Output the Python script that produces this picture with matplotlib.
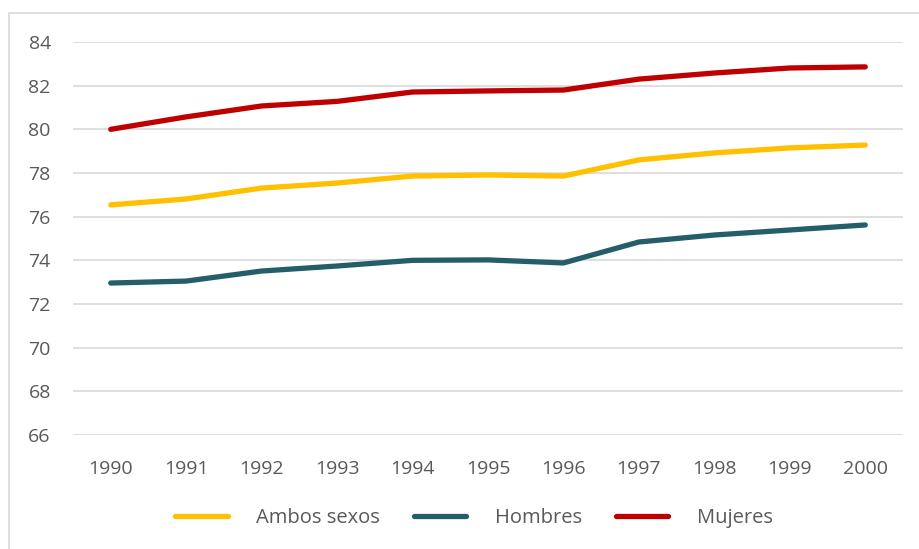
import matplotlib
matplotlib.use("Agg")
import matplotlib.pyplot as plt
from matplotlib.patches import Rectangle

years = ["1990", "1991", "1992", "1993", "1994", "1995", "1996", "1997", "1998", "1999", "2000"]
ambos = [76.54, 76.81, 77.31, 77.54, 77.86, 77.91, 77.86, 78.60, 78.92, 79.15, 79.28]
hombres = [72.96, 73.05, 73.51, 73.74, 74.00, 74.02, 73.88, 74.84, 75.16, 75.39, 75.62]
mujeres = [80.00, 80.57, 81.07, 81.28, 81.71, 81.76, 81.80, 82.30, 82.58, 82.81, 82.86]
series_names = ["Ambos sexos", "Hombres", "Mujeres"]
y_ticks = [66, 68, 70, 72, 74, 76, 78, 80, 82, 84]

plt.rcParams['font.family'] = ['Open Sans', 'DejaVu Sans']
W, H = 919, 549
fig = plt.figure(figsize=(W / 100, H / 100), dpi=100)
fig.patches.append(Rectangle((9 / W, -0.1), 1.2, 1 - 13 / H + 0.1, transform=fig.transFigure,
                             fill=False, edgecolor="#d9d9d9", linewidth=1.2))

ax = fig.add_axes([73 / W, 1 - 435 / H, 830 / W, 393 / H])
x = list(range(len(years)))
colors = ["#FFC000", "#255E6B", "#C00000"]
for vals, name, c in zip([ambos, hombres, mujeres], series_names, colors):
    ax.plot(x, vals, color=c, linewidth=3.8, label=name, solid_capstyle="round", solid_joinstyle="round")

ax.set_xlim(-0.5, len(years) - 0.5)
ax.set_ylim(66, 84)
ax.set_yticks(y_ticks)
ax.set_yticklabels([str(v) for v in y_ticks])
ax.set_xticks(x)
ax.set_xticklabels(years)
ax.grid(axis="y", color="#d9d9d9", linewidth=1.2)
ax.set_axisbelow(True)
for s in ax.spines.values():
    s.set_visible(False)
ax.tick_params(axis="both", length=0, labelsize=14, colors="#595959")
ax.tick_params(axis="x", pad=18)
ax.tick_params(axis="y", pad=16)

leg = fig.legend(loc="center", bbox_to_anchor=(474 / W, 1 - 518 / H), ncol=3, frameon=False,
                 fontsize=14.5, handlelength=2.6, handletextpad=1.4, columnspacing=1.7)
for t in leg.get_texts():
    t.set_color("#595959")

fig.savefig("out.png", dpi=100)
